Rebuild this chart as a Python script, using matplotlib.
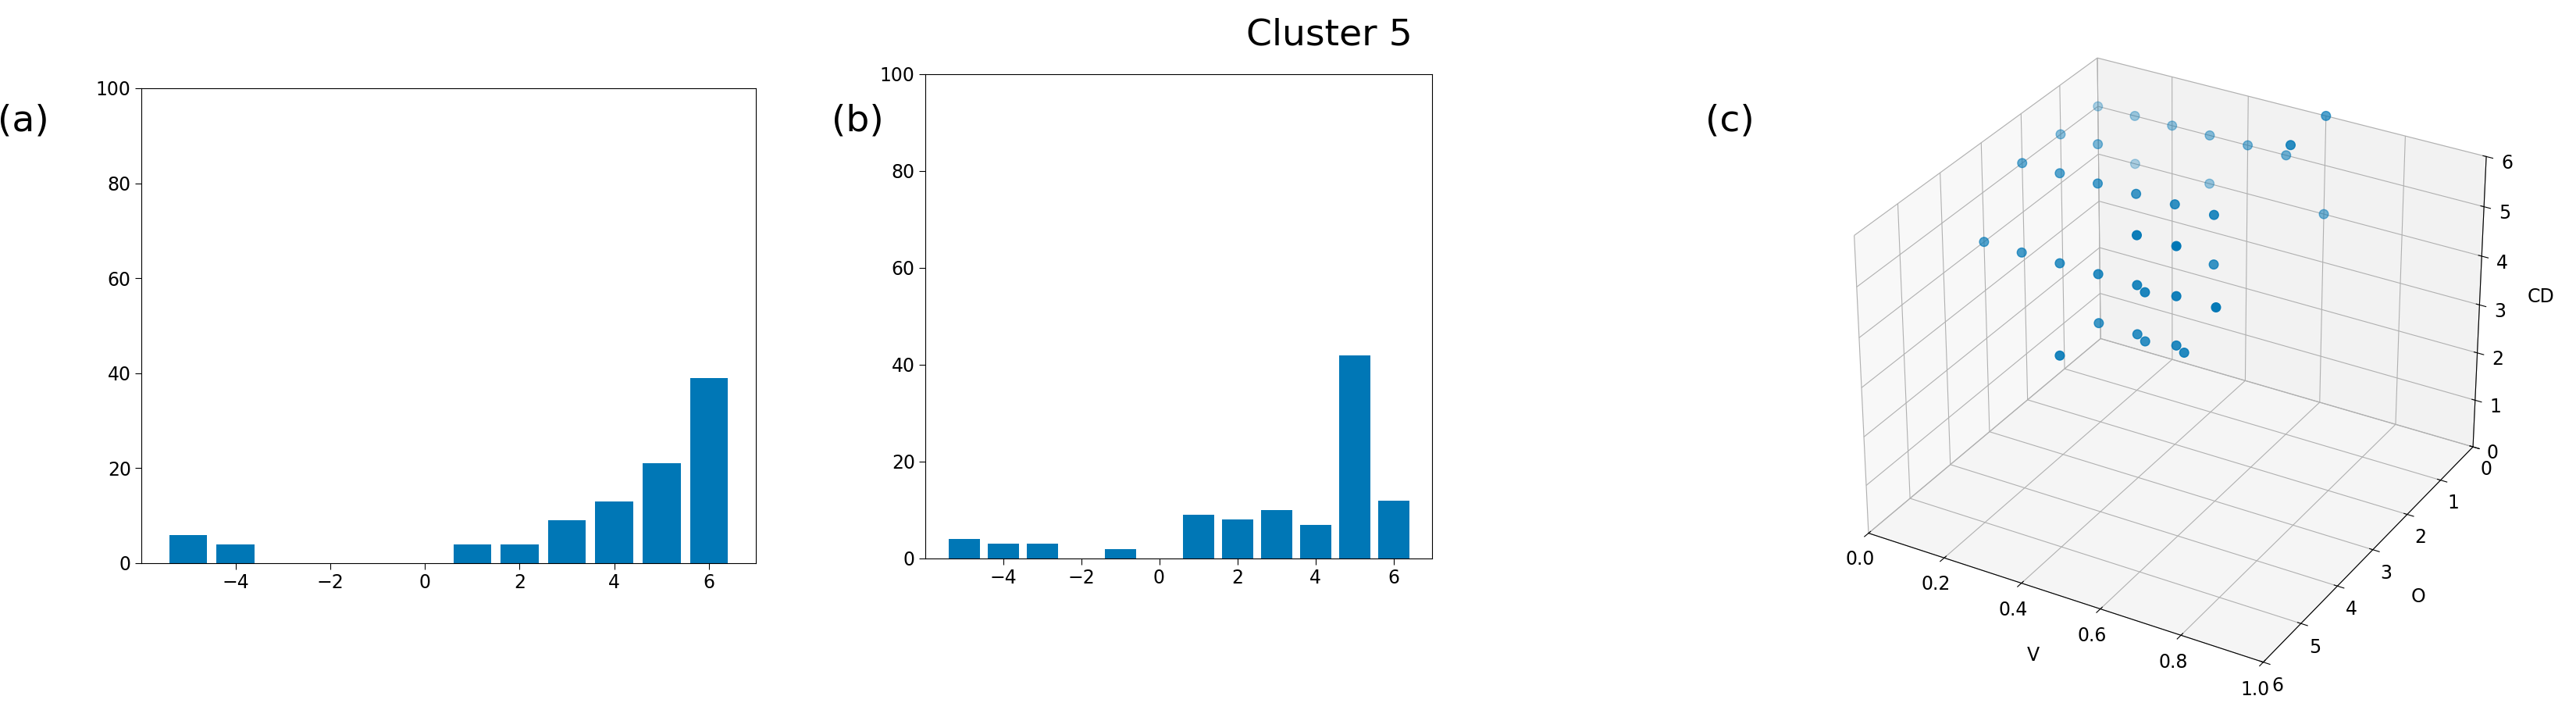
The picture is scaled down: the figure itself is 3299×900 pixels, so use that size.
import matplotlib
matplotlib.use("Agg")
import matplotlib.pyplot as plt

# panel (a) histogram
a_x = [-5, -4, 1, 2, 3, 4, 5, 6]
a_counts = [6, 4, 4, 4, 9, 13, 21, 39]

# panel (b) histogram
b_x = [-5, -4, -3, -1, 1, 2, 3, 4, 5, 6]
b_counts = [4, 3, 3, 2, 9, 8, 10, 7, 42, 12]

# panel (c) scatter points (V, O, CD)
c_v = [0.0, 0.1, 0.2, 0.3, 0.4, 0.5, 0.6, 0.6,
       0.0, 0.0, 0.1, 0.1, 0.1, 0.2, 0.3, 0.3, 0.4, 0.5, 0.6,
       0.4, 0.5, 0.5,
       0.0, 0.1, 0.2, 0.3, 0.4, 0.42, 0.5, 0.6,
       0.3, 0.4, 0.42, 0.5, 0.52, 0.3]
c_o = [0, 0, 0, 0, 0, 0, 1, 0,
       1, 2, 1, 2, 0, 2, 0, 2, 2, 2, 0,
       3, 3, 2,
       3, 3, 3, 3, 3, 3, 3, 3,
       3, 3, 3, 3, 3, 4]
c_cd = [5, 5, 5, 5, 5, 5, 6, 6,
        5, 5, 5, 5, 4, 5, 4, 5, 5, 5, 4,
        5, 5, 4,
        4, 4, 4, 4, 4, 3.9, 4, 4,
        3, 3, 2.9, 3, 2.9, 3]

blue = "#0077b6"
fig = plt.figure(figsize=(32.99, 9), dpi=100)

ax1 = fig.add_axes([181/3299, 1 - 721/900, 787/3299, 608/900])
ax1.bar(a_x, a_counts, color=blue)
ax1.set_ylim(0, 100)

ax2 = fig.add_axes([1185/3299, 1 - 715/900, 649/3299, 620/900])
ax2.bar(b_x, b_counts, color=blue)
ax2.set_ylim(0, 100)

for ax in (ax1, ax2):
    ax.tick_params(labelsize=17, length=6)
    ax.set_xticks([-4, -2, 0, 2, 4, 6])
    ax.set_yticks(range(0, 101, 20))

ax3 = fig.add_axes([2275/3299, -0.005, 1000/3299, 1.0], projection="3d")
ax3.scatter(c_v, c_o, c_cd, color=blue, s=70, depthshade=True)
ax3.set_xlim(0, 1)
ax3.set_ylim(6, 0)
ax3.set_zlim(0, 6)
ax3.set_xlabel("V", fontsize=17, labelpad=18)
ax3.set_ylabel("O", fontsize=17, labelpad=18)
ax3.set_zlabel("CD", fontsize=17, labelpad=14)
ax3.tick_params(labelsize=17)
ax3.view_init(elev=30, azim=-60)

fig.text(1702/3299, 1 - 45/900, "Cluster 5", fontsize=34, ha="center", va="center")
for lbl, x in (("(a)", 30), ("(b)", 1098), ("(c)", 2215)):
    fig.text(x/3299, 1 - 155/900, lbl, fontsize=34, ha="center", va="center")

fig.savefig("out.png", dpi=100)
